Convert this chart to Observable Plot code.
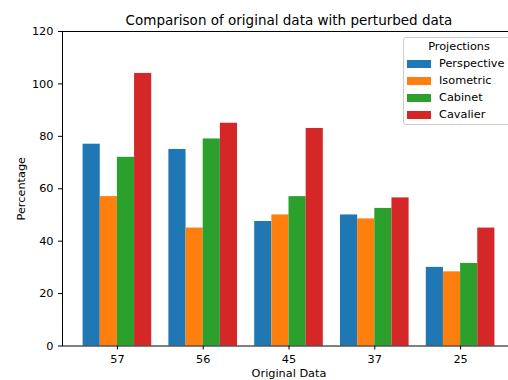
<!DOCTYPE html>
<html>
<head>
<meta charset="utf-8">
<script src="https://cdn.jsdelivr.net/npm/d3@7"></script>
<script src="https://cdn.jsdelivr.net/npm/@observablehq/plot@0.6"></script>
<style>
  html, body { margin: 0; padding: 0; background: white; overflow: hidden; }
  #wrap { position: relative; width: 508px; height: 380px; overflow: hidden; font-family: "DejaVu Sans", sans-serif; }
  #legend { position: absolute; left: 403px; top: 37px; width: 112px; height: 88px; box-sizing: border-box;
    border: 1px solid #cccccc; border-radius: 3px; background: rgba(255,255,255,0.8); padding: 0 0 0 3px;
    font-size: 11.3px; color: #000; }
  #legend .title { line-height: 17px; height: 17px; width: 104px; text-align: center; }
  #legend .row { line-height: 17px; height: 17px; display: flex; align-items: center; }
  #legend .sw { width: 24px; height: 8px; margin-right: 8px; flex: none; }
</style>
</head>
<body>
<div id="wrap"></div>
<script>
const categories = ["57", "56", "45", "37", "25"];
const series = ["Perspective", "Isometric", "Cabinet", "Cavalier"];
const perspective = [77, 75, 47.5, 50, 30];
const isometric = [57, 45, 50, 48.5, 28.3];
const cabinet = [72, 79, 57, 52.5, 31.5];
const cavalier = [104, 85, 83, 56.5, 45];
const yTicks = [0, 20, 40, 60, 80, 100, 120];
const colors = ["#1f77b4", "#ff7f0e", "#2ca02c", "#d62728"];
const barWidth = 0.2;

const values = [perspective, isometric, cabinet, cavalier];
const data = series.flatMap((s, j) => values[j].map((v, i) => ({cat: i, j, series: s, value: v})));

const plot = Plot.plot({
  width: 508,
  height: 380,
  marginTop: 31,
  marginBottom: 34.5,
  marginLeft: 62,
  marginRight: -7,
  style: {fontFamily: "DejaVu Sans", fontSize: "11.3px", color: "black", background: "white"},
  x: {
    domain: [-0.64, 4.64],
    ticks: categories.map((c, i) => i),
    tickFormat: i => categories[i],
    tickSize: 4,
    tickPadding: 5,
    label: "Original Data",
    labelAnchor: "center",
    labelArrow: "none",
    labelOffset: 31
  },
  y: {
    domain: [0, 120],
    ticks: yTicks,
    tickSize: 4,
    tickPadding: 5,
    label: "Percentage",
    labelAnchor: "center",
    labelArrow: "none",
    labelOffset: 46
  },
  color: {domain: series, range: colors},
  marks: [
    Plot.rectY(data, {
      x1: d => d.cat + (d.j - 2) * barWidth,
      x2: d => d.cat + (d.j - 1) * barWidth,
      y: "value",
      fill: "series"
    }),
    Plot.frame({stroke: "black", strokeWidth: 1}),
    Plot.text(["Comparison of original data with perturbed data"], {
      frameAnchor: "top", lineAnchor: "bottom", dy: -7, fontSize: 13.5, fill: "black"
    })
  ]
});
plot.style.maxWidth = "none";
const wrap = document.getElementById("wrap");
wrap.appendChild(plot);

const legend = document.createElement("div");
legend.id = "legend";
const t = document.createElement("div");
t.className = "title";
t.textContent = "Projections";
legend.appendChild(t);
series.forEach((s, j) => {
  const row = document.createElement("div");
  row.className = "row";
  const sw = document.createElement("div");
  sw.className = "sw";
  sw.style.background = colors[j];
  const lab = document.createElement("span");
  lab.textContent = s;
  row.appendChild(sw);
  row.appendChild(lab);
  legend.appendChild(row);
});
wrap.appendChild(legend);
</script>
</body>
</html>
